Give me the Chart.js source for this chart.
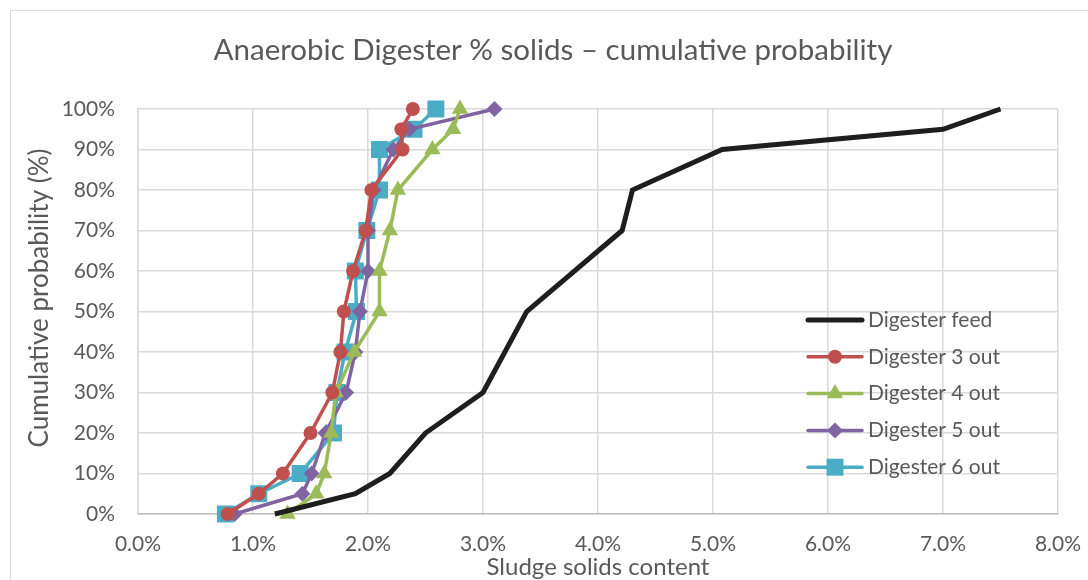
<!DOCTYPE html>
<html>
<head>
<meta charset="utf-8">
<script src="https://cdn.jsdelivr.net/npm/chart.js@4.4.1/dist/chart.umd.min.js"></script>
<style>
  html, body { margin: 0; padding: 0; background: #fff; }
  #wrap { position: relative; width: 1088px; height: 580px; }
</style>
</head>
<body>
<div id="wrap"><canvas id="chart" width="1088" height="580"></canvas></div>
<script>
// ─── DATA ────────────────────────────────────────────────────────
const title = 'Anaerobic Digester % solids – cumulative probability';
const xTitle = 'Sludge solids content';
const yTitle = 'Cumulative probability (%)';

// cumulative probability (%) for each point
const probFeed = [0, 5, 10, 20, 30, 50, 70, 80, 90, 95, 100];
const probOut  = [0, 5, 10, 20, 30, 40, 50, 60, 70, 80, 90, 95, 100];

// solids content (%)
const feedSolids = [1.19, 1.89, 2.19, 2.50, 3.00, 3.38, 4.21, 4.30, 5.08, 7.00, 7.50];
const dig3Solids = [0.78, 1.05, 1.26, 1.50, 1.69, 1.76, 1.79, 1.87, 1.98, 2.03, 2.30, 2.29, 2.39];
const dig4Solids = [1.30, 1.55, 1.62, 1.68, 1.72, 1.88, 2.10, 2.10, 2.19, 2.26, 2.56, 2.74, 2.80];
const dig5Solids = [0.84, 1.43, 1.51, 1.63, 1.81, 1.89, 1.93, 2.00, 2.00, 2.05, 2.22, 2.36, 3.10];
const dig6Solids = [0.76, 1.05, 1.41, 1.70, 1.73, 1.80, 1.90, 1.89, 1.99, 2.10, 2.10, 2.40, 2.59];

const xTicks = [0, 1, 2, 3, 4, 5, 6, 7, 8];
const yTicks = [0, 10, 20, 30, 40, 50, 60, 70, 80, 90, 100];

// ─── HELPERS ─────────────────────────────────────────────────────
const FONT = 'Lato';
const TEXT = '#595959';
const pairs = (xs, ys) => xs.map((x, i) => ({ x, y: ys[i] }));

function series(label, xs, ys, color, style, radius, width) {
  return {
    label,
    data: pairs(xs, ys),
    borderColor: color,
    backgroundColor: color,
    pointBackgroundColor: color,
    pointBorderColor: color,
    pointBorderWidth: 0,
    borderWidth: width,
    pointStyle: style,
    pointRadius: radius,
    showLine: true,
    tension: 0,
    clip: false
  };
}

const datasets = [
  series('Digester feed', feedSolids, probFeed, '#1e1e1e', false, 0, 5),
  series('Digester 3 out', dig3Solids, probOut, '#C0504D', 'circle', 7, 3.5),
  series('Digester 4 out', dig4Solids, probOut, '#9BBB59', 'triangle', 9.5, 3.5),
  series('Digester 5 out', dig5Solids, probOut, '#8064A2', 'rectRot', 8, 3.5),
  series('Digester 6 out', dig6Solids, probOut, '#4BACC6', 'rect', 12, 3.5)
];

// ─── PLUGINS ─────────────────────────────────────────────────────
// outer frame + chart title + y-axis title
const frame = {
  id: 'frame',
  beforeDraw(chart) {
    const c = chart.ctx;
    c.save();
    c.strokeStyle = '#d9d9d9';
    c.lineWidth = 1;
    c.strokeRect(10.5, 10.5, 1100, 600);

    c.fillStyle = TEXT;
    c.textAlign = 'center';
    c.textBaseline = 'middle';
    c.font = '29.5px ' + FONT;
    c.fillText(title, 553, 50);

    c.translate(40, 298);
    c.rotate(-Math.PI / 2);
    c.font = '26px ' + FONT;
    c.fillText(yTitle, 0, 0);
    c.restore();
  }
};

const legendBox = {
  id: 'legendBox',
  afterDatasetsDraw(chart) {
    const c = chart.ctx;
    c.save();
    chart.data.datasets.forEach((ds, i) => {
      const y = 320 + i * 36.8;
      c.strokeStyle = ds.borderColor;
      c.lineWidth = ds.borderWidth;
      c.lineCap = 'round';
      c.beginPath();
      c.moveTo(808, y);
      c.lineTo(862, y);
      c.stroke();
      if (ds.pointStyle) {
        c.fillStyle = ds.pointBackgroundColor;
        c.beginPath();
        Chart.helpers.drawPoint(c, { pointStyle: ds.pointStyle, rotation: 0, borderWidth: 0, radius: ds.pointRadius }, 835, y);
      }
      c.fillStyle = TEXT;
      c.font = '21px ' + FONT;
      c.textAlign = 'left';
      c.textBaseline = 'middle';
      c.fillText(ds.label, 868, y);
    });
    c.restore();
  }
};

// ─── CHART ───────────────────────────────────────────────────────
new Chart(document.getElementById('chart'), {
  type: 'scatter',
  data: { datasets },
  options: {
    responsive: false,
    animation: false,
    layout: { padding: { left: 10, right: 30, top: 109, bottom: 0 } },
    plugins: {
      legend: { display: false },
      tooltip: { enabled: false },
      title: { display: false }
    },
    scales: {
      x: {
        type: 'linear',
        min: 0, max: 8,
        afterBuildTicks: s => { s.ticks = xTicks.map(v => ({ value: v })); },
        afterFit: s => { s.height = 66; s.paddingLeft = 0; s.paddingRight = 0; },
        grid: { color: '#d9d9d9', lineWidth: 1.5, drawTicks: false },
        border: { color: '#bfbfbf', width: 1.5 },
        ticks: { color: TEXT, font: { family: FONT, size: 21 }, padding: 18, maxRotation: 0,
                 callback: v => v.toFixed(1) + '%' },
        title: { display: true, text: xTitle, color: TEXT, font: { family: FONT, size: 24, lineHeight: 1.1 },
                 padding: { top: 0, bottom: 0 } }
      },
      y: {
        type: 'linear',
        min: 0, max: 100,
        afterBuildTicks: s => { s.ticks = yTicks.map(v => ({ value: v })); },
        afterFit: s => { s.width = 128; s.paddingTop = 0; s.paddingBottom = 0; },
        grid: { color: '#d9d9d9', lineWidth: 1.5, drawTicks: false },
        border: { color: '#d9d9d9', width: 1.5 },
        ticks: { color: TEXT, font: { family: FONT, size: 21 }, padding: 23,
                 callback: v => v + '%' }
      }
    }
  },
  plugins: [frame, legendBox]
});
</script>
</body>
</html>
